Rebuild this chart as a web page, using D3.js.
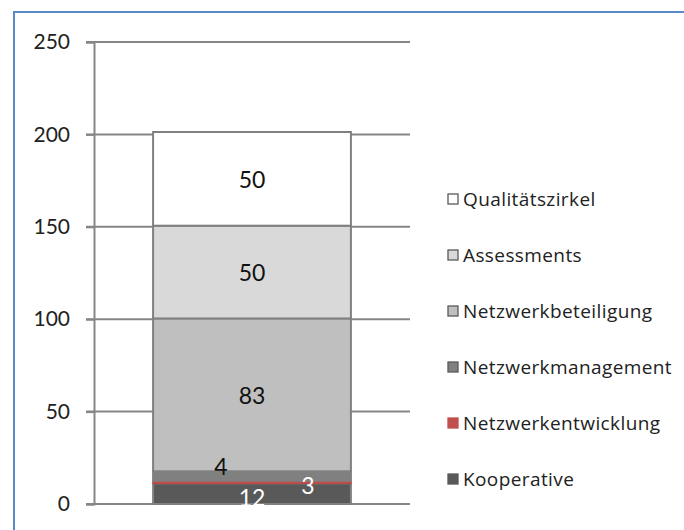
<!DOCTYPE html>
<html><head><meta charset="utf-8">
<script src="https://cdn.jsdelivr.net/npm/d3@7"></script>
<style>body{margin:0;background:#fff;}svg{display:block;font-family:Lato,"Open Sans",sans-serif;}</style>
</head><body>
<svg id="c" width="684" height="530"></svg>
<script>
const categories = [""];
const seriesNames = ["Kooperative","Netzwerkentwicklung","Netzwerkmanagement","Netzwerkbeteiligung","Assessments","Qualitätszirkel"];
const seriesValues = [11.2, 1.4, 5.1, 82.7, 50.2, 50.7];
const dataLabels = ["12","3","4","83","50","50"];
const seriesColors = ["#595959","#c0504d","#808080","#bfbfbf","#d9d9d9","#ffffff"];
const yTicks = [0,50,100,150,200,250];

const svg = d3.select("#c");
svg.append("rect").attr("x",14).attr("y",12).attr("width",700).attr("height",600)
  .attr("fill","#fff").attr("stroke","#5b8ac6").attr("stroke-width",2);

const y = d3.scaleLinear().domain([0,250]).range([504,42]);
const x = d3.scaleBand().domain(categories).range([94,410]).padding(0.23);

// gridlines
svg.append("g").selectAll("line").data(yTicks).join("line")
  .attr("x1",86).attr("x2",410).attr("y1",d=>y(d)).attr("y2",d=>y(d))
  .attr("stroke","#868686").attr("stroke-width",2);

// y axis
const ax = svg.append("g").attr("transform","translate(94,0)")
  .call(d3.axisLeft(y).tickValues(yTicks).tickSize(8).tickPadding(16));
ax.select(".domain").attr("stroke","#868686").attr("stroke-width",2);
ax.selectAll(".tick line").attr("stroke","#868686").attr("stroke-width",2);
ax.selectAll("text").attr("font-size",21).attr("fill","#222").attr("font-family","Lato");

// stack
const row = {cat: categories[0]};
seriesNames.forEach((n,i)=>row[n]=seriesValues[i]);
const stack = d3.stack().keys(seriesNames)([row]);
const bars = svg.append("g");
stack.forEach((s,i)=>{
  const d = s[0];
  bars.append("rect")
    .attr("x",x(d.data.cat)).attr("width",x.bandwidth())
    .attr("y",y(d[1])).attr("height",y(d[0])-y(d[1]))
    .attr("fill",seriesColors[i])
    .attr("stroke", i===1 ? "#b94a48" : "#808080")
    .attr("stroke-width", i===1 ? 1.5 : 2);
});

// data labels (manually placed in original)
const labelOffsets = [[0,3],[56,3],[-31,-10],[0,0],[0,0],[0,0]];
const labelColors = ["#fff","#fff","#111","#111","#111","#111"];
stack.forEach((s,i)=>{
  const d = s[0];
  const cx = x(d.data.cat)+x.bandwidth()/2 + labelOffsets[i][0];
  const cy = (y(d[0])+y(d[1]))/2 + labelOffsets[i][1];
  svg.append("text").attr("x",cx).attr("y",cy).attr("text-anchor","middle")
    .attr("dominant-baseline","central").attr("font-size",23)
    .attr("fill",labelColors[i]).text(dataLabels[i]);
});

// legend (reverse order)
const legendOrder = seriesNames.map((n,i)=>i).reverse();
const lg = svg.append("g");
legendOrder.forEach((si,k)=>{
  const cy = 199 + k*56;
  lg.append("rect").attr("x",448).attr("y",cy-5).attr("width",10).attr("height",10)
    .attr("fill",seriesColors[si]).attr("stroke", si===1 ? seriesColors[si] : "#595959").attr("stroke-width",1.3);
  lg.append("text").attr("x",463).attr("y",cy).attr("dominant-baseline","central")
    .attr("font-family","'Open Sans'").attr("font-size",19).attr("letter-spacing",0.4)
    .attr("fill","#222").text(seriesNames[si]);
});
</script>
</body></html>
